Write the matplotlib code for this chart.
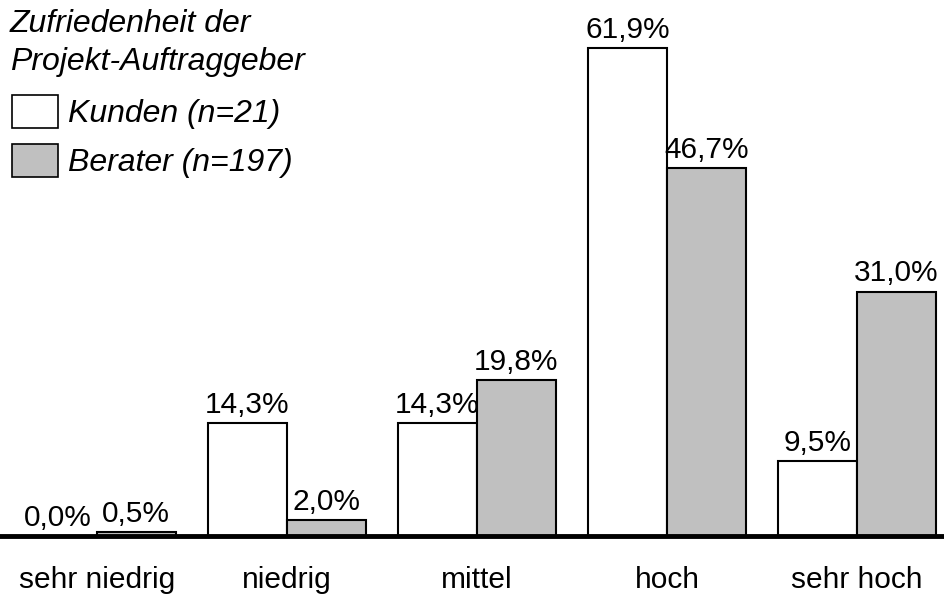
import numpy as np
import matplotlib.pyplot as plt
from matplotlib.patches import Patch

categories = ["sehr niedrig", "niedrig", "mittel", "hoch", "sehr hoch"]
kunden = [0.0, 14.3, 14.3, 61.9, 9.5]
berater = [0.5, 2.0, 19.8, 46.7, 31.0]
series_names = ["Kunden (n=21)", "Berater (n=197)"]
legend_title = "Zufriedenheit der\nProjekt-Auftraggeber"

plt.rcParams['font.family'] = ['Liberation Sans', 'DejaVu Sans']

fig = plt.figure(figsize=(9.44, 5.94), dpi=100)
ax = fig.add_axes([0, 1 - 536/594, 1, 536/594])

x = np.arange(len(categories))
w = 0.415
gray = "#c0c0c0"

b1 = ax.bar(x - w/2, kunden, w, color="white", edgecolor="black", linewidth=1.5)
b2 = ax.bar(x + w/2, berater, w, color=gray, edgecolor="black", linewidth=1.5)

def fmt(v):
    return f"{v:.1f}".replace(".", ",") + "%"

for bars, vals in [(b1, kunden), (b2, berater)]:
    for b, v in zip(bars, vals):
        ax.annotate(fmt(v), (b.get_x() + b.get_width()/2, v),
                    xytext=(0, 3), textcoords="offset points",
                    ha="center", va="bottom", fontsize=21.5)

ax.set_xlim(-0.51, 4.458)
ax.set_ylim(0, 68.0)
ax.set_xticks(x)
ax.set_xticklabels(categories, fontsize=21.5)
ax.tick_params(axis="x", length=0, pad=21.5)
ax.set_yticks([])
for s in ["top", "left", "right"]:
    ax.spines[s].set_visible(False)
ax.spines["bottom"].set_linewidth(3.5)
ax.spines["bottom"].set_zorder(5)

# title of the legend, drawn separately to control line spacing
fig.text(10/944, 1 - 9/594, legend_title, ha="left", va="top",
         fontsize=23, style="italic", linespacing=1.36)

handles = [Patch(facecolor="white", edgecolor="black", linewidth=1.2),
           Patch(facecolor=gray, edgecolor="black", linewidth=1.2)]
leg = ax.legend(handles, series_names, loc="upper left",
                bbox_to_anchor=(12/944, 1 - 95/594), bbox_transform=fig.transFigure,
                frameon=False, prop={"size": 23, "style": "italic"},
                handlelength=1.44, handleheight=1.2, handletextpad=0.31,
                labelspacing=0.47, borderaxespad=0.0, borderpad=0.0)

fig.savefig("out.png", dpi=100)
